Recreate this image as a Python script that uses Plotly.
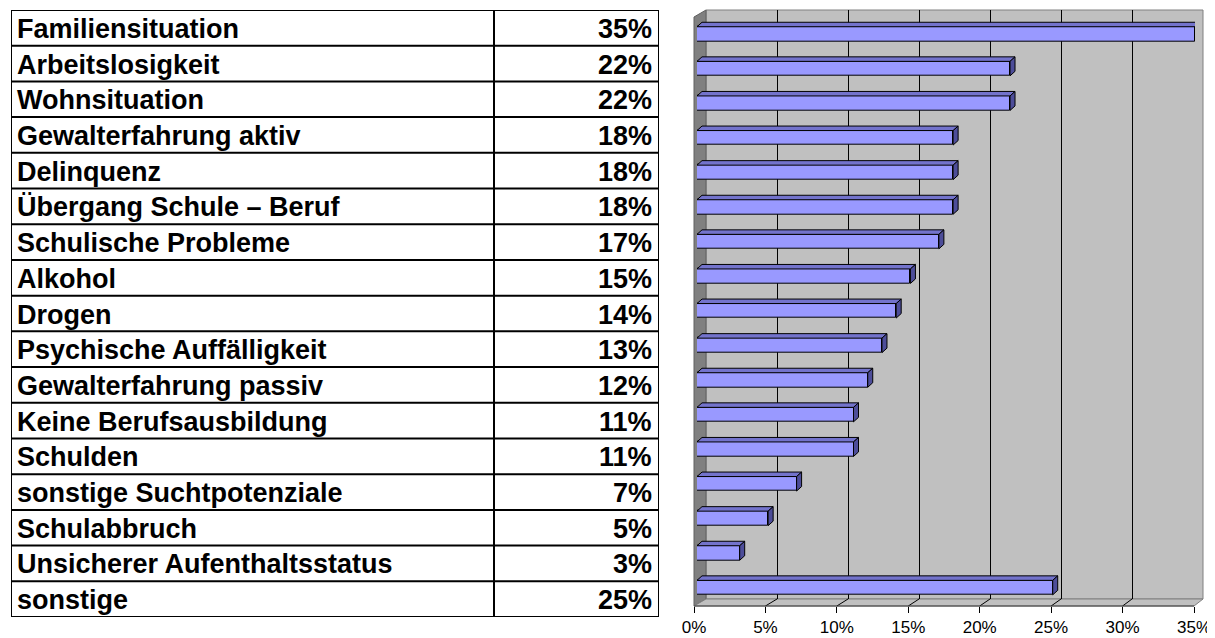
import plotly.graph_objects as go

# ---------------- data ----------------
categories = [
    "Familiensituation", "Arbeitslosigkeit", "Wohnsituation", "Gewalterfahrung aktiv",
    "Delinquenz", "Übergang Schule – Beruf", "Schulische Probleme", "Alkohol", "Drogen",
    "Psychische Auffälligkeit", "Gewalterfahrung passiv", "Keine Berufsausbildung",
    "Schulden", "sonstige Suchtpotenziale", "Schulabbruch",
    "Unsicherer Aufenthaltsstatus", "sonstige",
]
values = [35, 22, 22, 18, 18, 18, 17, 15, 14, 13, 12, 11, 11, 7, 5, 3, 25]
tick_values = [0, 5, 10, 15, 20, 25, 30, 35]
tick_labels = [f"{t}%" for t in tick_values]
value_labels = [f"{v}%" for v in values]

# ---------------- geometry (page pixels) ----------------
PAGE_W, PAGE_H = 1215, 638
OFF = 8                      # default page body margin
W, H = PAGE_W - OFF, PAGE_H - OFF


def fx(p):
    return (p - OFF) / W


def fy(p):
    return 1 - (p - OFF) / H


T_L, T_R, T_T, T_B, T_DIV = 11, 659, 10, 617, 494
WL_L, WL_R, WL_T, WL_B = 706, 1203, 10, 599
LW_L, LW_T = 694, 17
FR_L, FR_R, FR_Y = 694, 1194, 606
B_L, B_R, B_FIRST, B_STEP = 697, 1195, 34, 34.6
BAR_PX, DEP_X, DEP_Y = 14.5, 5, 4.5
XMAX = tick_values[-1]

n = len(categories)
idx = list(range(n))
bar_w = BAR_PX / B_STEP
dx = DEP_X * XMAX / (B_R - B_L)
dy = DEP_Y / B_STEP

FRONT = "#9999FF"
TOPC = "#7373CC"
SIDEC = "#4D4D99"

fig = go.Figure()

# table helper trace
fig.add_trace(go.Scatter(x=[0, 1], y=[0, n], xaxis="x2", yaxis="y2", mode="markers",
                         marker=dict(opacity=0), hoverinfo="skip", showlegend=False))
# back wall helper trace
fig.add_trace(go.Scatter(x=[0, XMAX], y=[0, 1], xaxis="x", yaxis="y", mode="markers",
                         marker=dict(opacity=0), hoverinfo="skip", showlegend=False))

# bars: front faces
fig.add_trace(go.Bar(x=values, y=idx, orientation="h", width=bar_w, xaxis="x3", yaxis="y3",
                     marker=dict(color=FRONT, line=dict(color="black", width=1)),
                     hovertext=categories, showlegend=False))

# top & side faces
tx, ty, sx, sy = [], [], [], []
for i, v in zip(idx, values):
    top = i - bar_w / 2
    bot = i + bar_w / 2
    tx += [0, dx, v + dx, v, 0, None]
    ty += [top, top - dy, top - dy, top, top, None]
    sx += [v, v + dx, v + dx, v, v, None]
    sy += [top, top - dy, bot - dy, bot, top, None]
fig.add_trace(go.Scatter(x=tx, y=ty, xaxis="x3", yaxis="y3", mode="lines", fill="toself",
                         fillcolor=TOPC, line=dict(color="black", width=1),
                         hoverinfo="skip", showlegend=False))
fig.add_trace(go.Scatter(x=sx, y=sy, xaxis="x3", yaxis="y3", mode="lines", fill="toself",
                         fillcolor=SIDEC, line=dict(color="black", width=1),
                         hoverinfo="skip", showlegend=False))

# tick axis helper trace
fig.add_trace(go.Scatter(x=[0, XMAX], y=[0, 0], xaxis="x4", yaxis="y3", mode="markers",
                         marker=dict(opacity=0), hoverinfo="skip", showlegend=False))

shapes = []
# back wall
shapes.append(dict(type="rect", xref="paper", yref="paper", x0=fx(WL_L), x1=fx(WL_R),
                   y0=fy(WL_B), y1=fy(WL_T), fillcolor="#C0C0C0",
                   line=dict(color="#808080", width=1), layer="below"))
# left wall
shapes.append(dict(type="path", xref="paper", yref="paper",
                   path=f"M {fx(LW_L)},{fy(LW_T)} L {fx(WL_L)},{fy(WL_T)} L {fx(WL_L)},{fy(WL_B)} "
                        f"L {fx(FR_L)},{fy(FR_Y)} Z",
                   fillcolor="#808080", line=dict(color="#606060", width=1), layer="below"))
# floor
shapes.append(dict(type="path", xref="paper", yref="paper",
                   path=f"M {fx(WL_L)},{fy(WL_B)} L {fx(WL_R)},{fy(WL_B)} L {fx(FR_R)},{fy(FR_Y)} "
                        f"L {fx(FR_L)},{fy(FR_Y)} Z",
                   fillcolor="#C0C0C0", line=dict(color="#808080", width=1), layer="below"))


def back_x(v):
    return WL_L + (WL_R - WL_L) * v / XMAX


def front_x(v):
    return FR_L + (FR_R - FR_L) * v / XMAX


for t in tick_values[1:-1]:
    shapes.append(dict(type="line", xref="paper", yref="paper",
                       x0=fx(back_x(t)), y0=fy(WL_B), x1=fx(front_x(t)), y1=fy(FR_Y),
                       line=dict(color="black", width=1), layer="below"))
shapes.append(dict(type="line", xref="paper", yref="paper",
                   x0=fx(FR_L), y0=fy(FR_Y), x1=fx(FR_R), y1=fy(FR_Y),
                   line=dict(color="#404040", width=1), layer="below"))

# table lines
for k in range(n + 1):
    shapes.append(dict(type="line", xref="x2", yref="y2", x0=0, x1=1, y0=k, y1=k,
                       line=dict(color="black", width=2)))
div = (T_DIV - T_L) / (T_R - T_L)
for xv in (0, div, 1):
    shapes.append(dict(type="line", xref="x2", yref="y2", x0=xv, x1=xv, y0=0, y1=n,
                       line=dict(color="black", width=2)))

annotations = []
TF = dict(family="Liberation Sans, Arial, sans-serif", size=27, color="black")
for i, (c, lab) in enumerate(zip(categories, value_labels)):
    annotations.append(dict(xref="x2", yref="y2", x=0, y=i + 0.5, text=f"<b>{c}</b>",
                            xanchor="left", yanchor="middle", xshift=4, yshift=-1,
                            showarrow=False, font=TF))
    annotations.append(dict(xref="x2", yref="y2", x=1, y=i + 0.5, text=f"<b>{lab}</b>",
                            xanchor="right", yanchor="middle", xshift=-5, yshift=-1,
                            showarrow=False, font=TF))

hidden = dict(visible=False, showgrid=False, zeroline=False, fixedrange=True, automargin=False)

fig.update_layout(
    template="none",
    width=W, height=H, autosize=False,
    margin=dict(l=0, r=0, t=0, b=0, pad=0, autoexpand=False),
    paper_bgcolor="white", plot_bgcolor="rgba(0,0,0,0)",
    showlegend=False, bargap=0,
    xaxis=dict(domain=[fx(WL_L), fx(WL_R)], range=[0, XMAX], anchor="y",
               tickmode="array", tickvals=tick_values[1:-1], showticklabels=False,
               ticks="", showgrid=True, gridcolor="black", gridwidth=1,
               zeroline=False, showline=False, fixedrange=True, automargin=False),
    yaxis=dict(domain=[fy(WL_B), fy(WL_T)], range=[0, 1], anchor="x", **hidden),
    xaxis2=dict(domain=[fx(T_L), fx(T_R)], range=[0, 1], anchor="y2", **hidden),
    yaxis2=dict(domain=[fy(T_B), fy(T_T)], range=[n, 0], anchor="x2", **hidden),
    xaxis3=dict(domain=[fx(B_L), fx(B_R)], range=[0, XMAX], anchor="y3", **hidden),
    yaxis3=dict(domain=[fy(B_FIRST + (n - 1) * B_STEP + B_STEP / 2), fy(B_FIRST - B_STEP / 2)],
                range=[n - 0.5, -0.5], anchor="x3", **hidden),
    xaxis4=dict(domain=[fx(FR_L), fx(FR_R)], range=[0, XMAX], anchor="free", position=fy(FR_Y),
                side="bottom", tickmode="array", tickvals=tick_values, ticktext=tick_labels,
                ticks="outside", ticklen=6, tickcolor="black", tickwidth=1,
                tickfont=dict(family="Liberation Sans, Arial, sans-serif", size=17, color="black"),
                showgrid=False, zeroline=False, showline=False, fixedrange=True,
                automargin=False),
    shapes=shapes,
    annotations=annotations,
)

fig.write_html("out.html")
